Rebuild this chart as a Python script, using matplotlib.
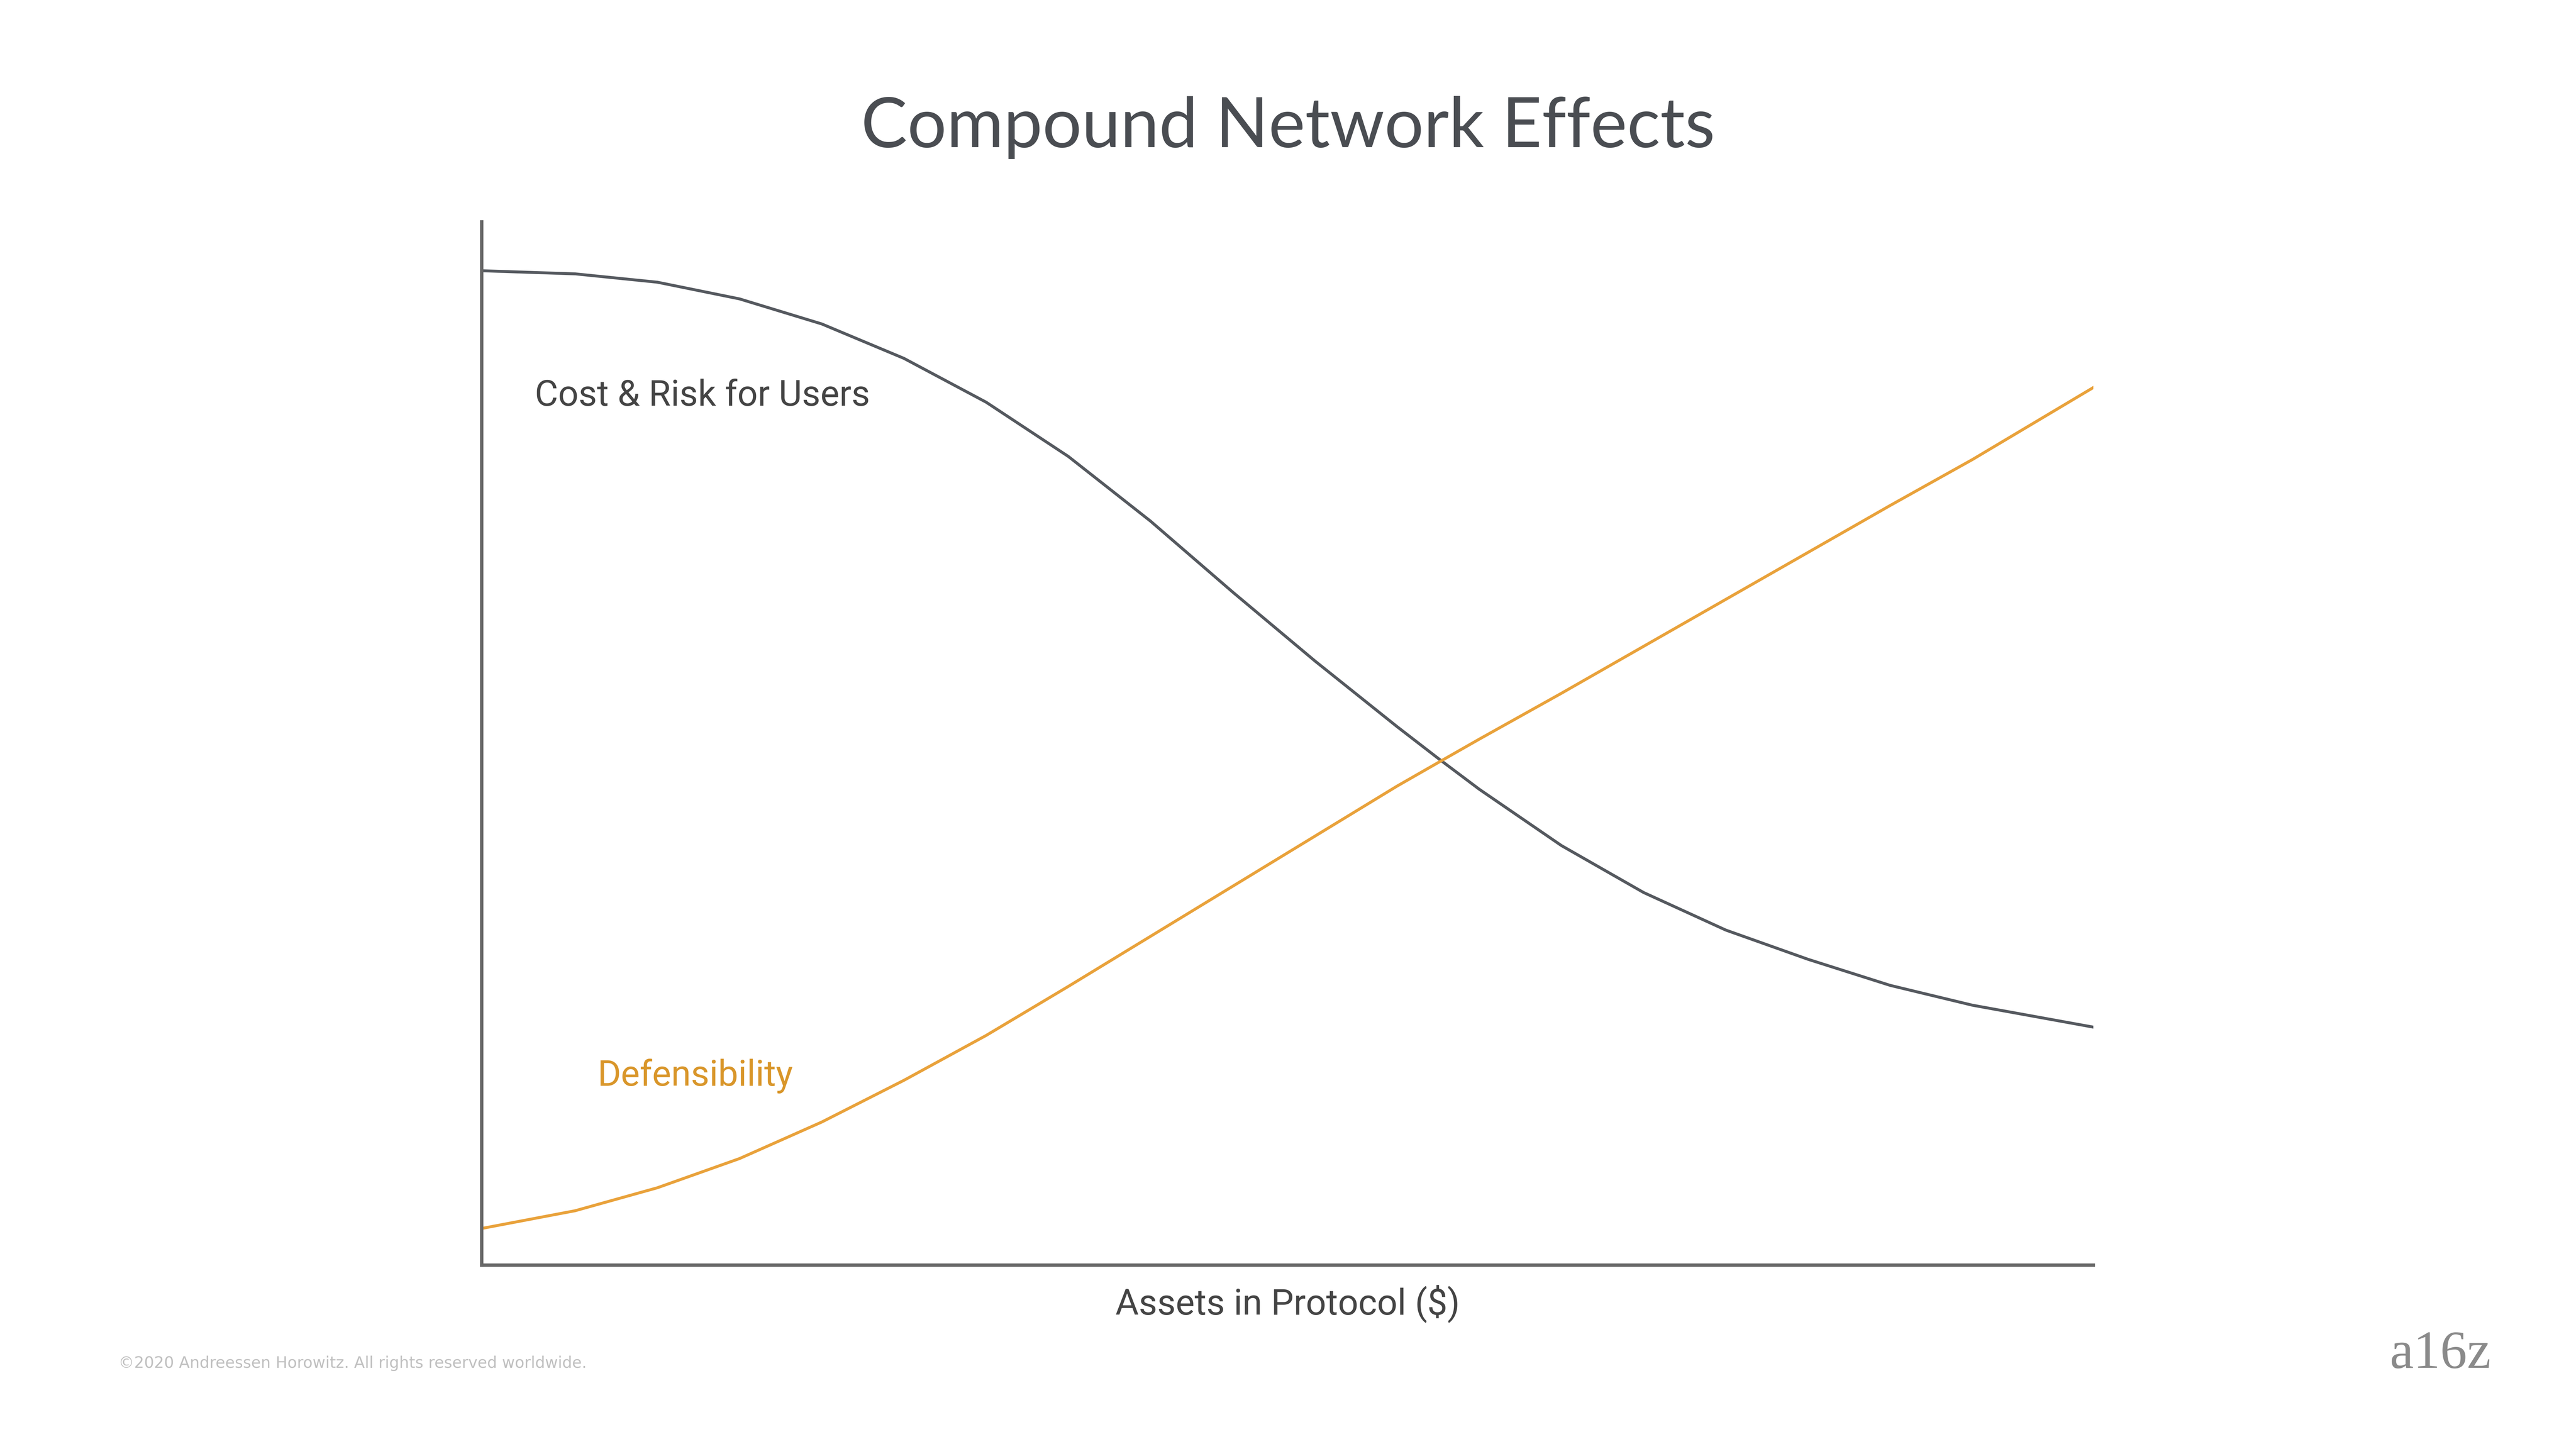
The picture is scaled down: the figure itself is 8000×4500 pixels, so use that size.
import matplotlib
matplotlib.use("Agg")
import matplotlib.pyplot as plt

# values (axis units 0-100)
assets = [0, 5.8, 10.9, 16.0, 21.1, 26.2, 31.3, 36.4, 41.5, 46.6, 51.7,
          56.8, 59.4, 61.9, 67.0, 72.1, 77.2, 82.3, 87.4, 92.5, 100]
cost_risk = [95.3, 95.0, 94.2, 92.6, 90.2, 86.9, 82.7, 77.5, 71.3, 64.5, 57.9,
             51.6, 48.5, 45.6, 40.2, 35.7, 32.1, 29.3, 26.8, 24.9, 22.8]
defensibility = [3.5, 5.2, 7.4, 10.2, 13.7, 17.7, 22.0, 26.7, 31.5, 36.3, 41.1,
                 45.9, 48.2, 50.4, 54.8, 59.3, 63.8, 68.3, 72.8, 77.2, 84.1]

GRAY = "#55595f"
ORANGE = "#e9a23b"

fig = plt.figure(figsize=(16, 9), dpi=500)
ax = fig.add_axes([0.187, 0.127, 0.6256, 0.72])
ax.plot(assets, cost_risk, color=GRAY, lw=1.3)
ax.plot(assets, defensibility, color=ORANGE, lw=1.3)
ax.set_xlim(0, 100)
ax.set_ylim(0, 100)
ax.set_xticks([])
ax.set_yticks([])
for s in ("top", "right"):
    ax.spines[s].set_visible(False)
for s in ("left", "bottom"):
    ax.spines[s].set_color("#666666")
    ax.spines[s].set_linewidth(1.5)

ax.text(3.3, 83.3, "Cost & Risk for Users", fontsize=16, color="#444444",
        va="center", ha="left", family="Roboto")
ax.text(7.2, 18.1, "Defensibility", fontsize=16, color="#d9962a",
        va="center", ha="left", family="Roboto")
ax.set_xlabel("Assets in Protocol ($)", fontsize=16, color="#444444",
              family="Roboto", labelpad=9)

fig.text(0.5, 0.912, "Compound Network Effects", fontsize=31, color="#4a4d52",
         ha="center", va="center", family="Lato")
fig.text(0.046, 0.059, "\u00a92020 Andreessen Horowitz. All rights reserved worldwide.",
         fontsize=7, color="#c0c0c0", ha="left", va="center")
fig.text(0.967, 0.065, "a16z", fontsize=24, color="#8a8a8a", ha="right",
         va="center", family="Liberation Serif")

fig.savefig("out.png", dpi=500)
